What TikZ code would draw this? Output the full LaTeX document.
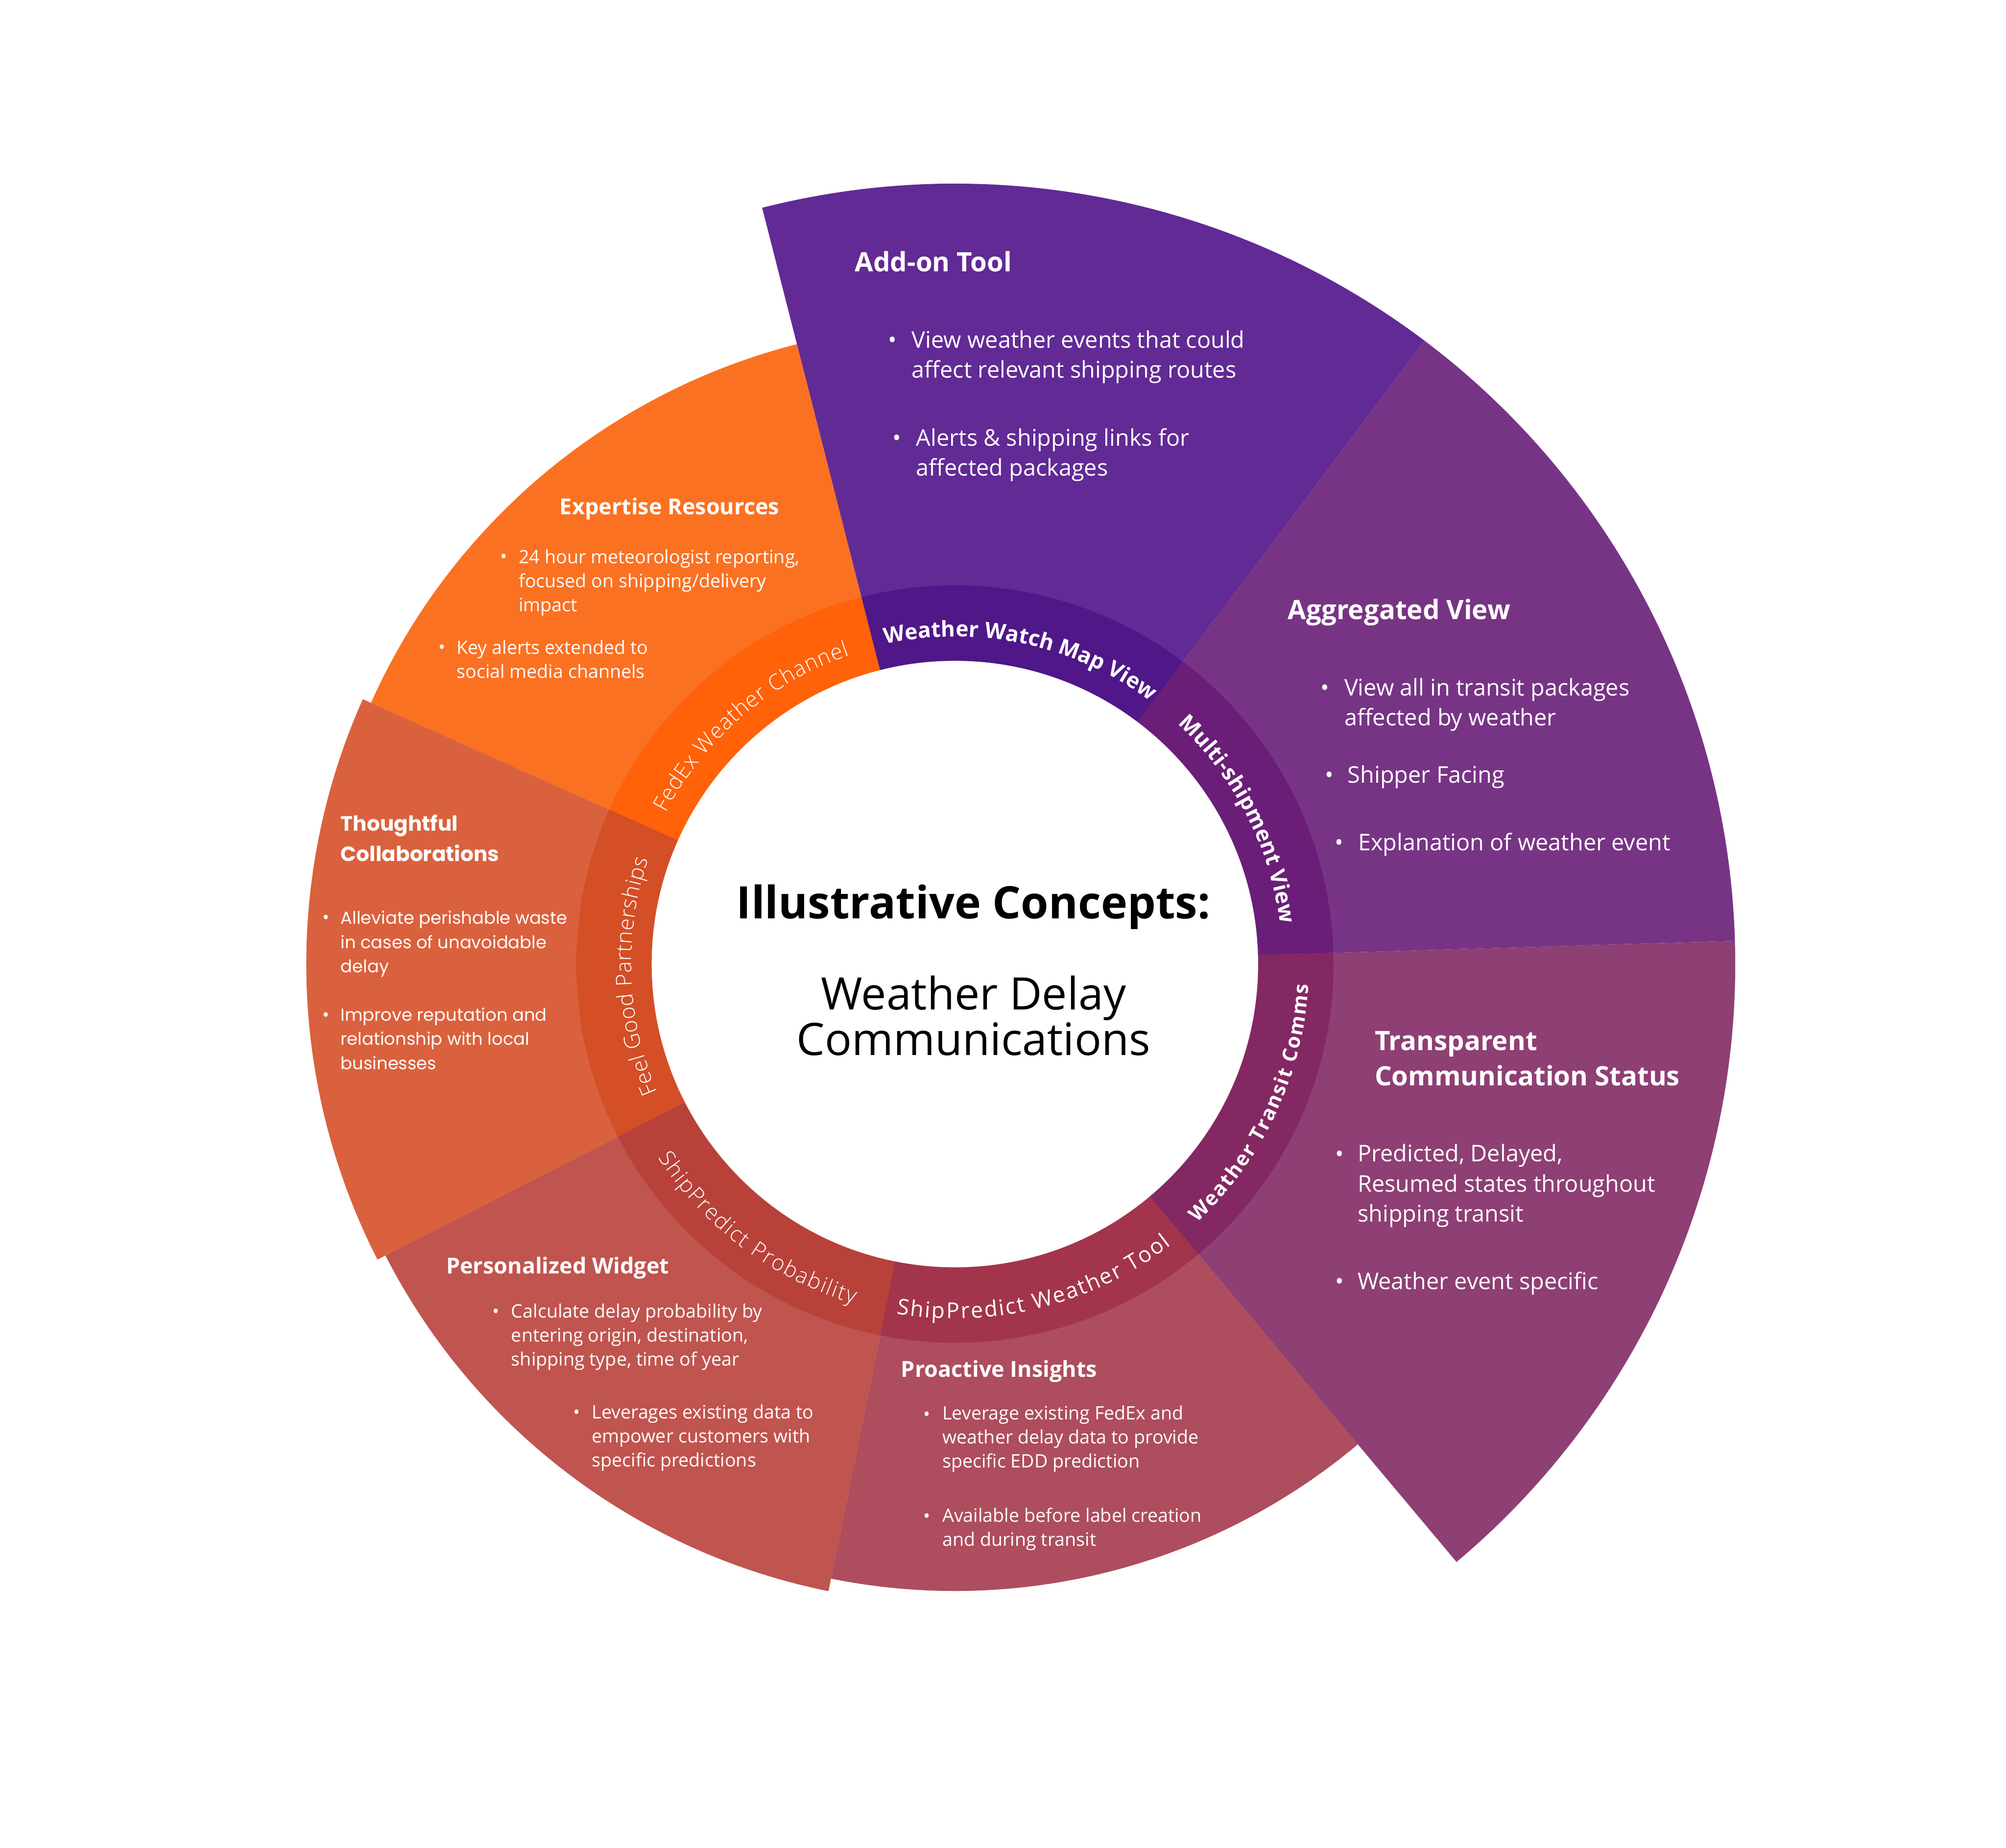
\documentclass[tikz,border=0pt]{standalone}
\usepackage{fontspec}
\setmainfont{Open Sans}
\newfontfamily\geofont{Poppins}
\IfFontExistsTF{Open Sans SemiBold}{\newfontfamily\semibf{Open Sans SemiBold}}{\newcommand\semibf{\bfseries}}
\IfFontExistsTF{Open Sans Light}{\newfontfamily\lightf{Open Sans Light}}{\newcommand\lightf{}}
\usepackage{tikz}
\usetikzlibrary{decorations.text}
\definecolor{addonPurple}{RGB}{98,42,149}
\definecolor{aggPurple}{RGB}{119,52,133}
\definecolor{transMauve}{RGB}{142,63,116}
\definecolor{proRose}{RGB}{173,77,94}
\definecolor{persRed}{RGB}{192,84,79}
\definecolor{thoughtOrange}{RGB}{218,97,61}
\definecolor{expOrange}{RGB}{251,113,34}
\definecolor{watchRing}{RGB}{79,23,136}
\definecolor{multiRing}{RGB}{106,30,120}
\definecolor{transitRing}{RGB}{131,40,98}
\definecolor{toolRing}{RGB}{162,53,75}
\definecolor{probRing}{RGB}{184,66,58}
\definecolor{feelRing}{RGB}{212,78,38}
\definecolor{channelRing}{RGB}{255,98,9}

\begin{document}
\begin{tikzpicture}[x=0.02cm, y=0.02cm,
    titleL/.style={text=white, inner sep=0pt, anchor=base west, align=left, font=\fontsize{11.9}{15.9}\selectfont\bfseries},
    bodyL/.style={text=white, inner sep=0pt, anchor=base west, align=left, font=\fontsize{10.2}{13.4}\selectfont},
    titleS/.style={text=white, inner sep=0pt, anchor=base west, align=left, font=\fontsize{9.8}{13.4}\selectfont\bfseries},
    bodyS/.style={text=white, inner sep=0pt, anchor=base west, align=left, font=\fontsize{8.2}{10.7}\selectfont},
    geoT/.style={titleS, font=\geofont\fontsize{9.2}{13.4}\selectfont\bfseries},
    geoB/.style={bodyS, font=\geofont\fontsize{7.7}{10.8}\selectfont},
    dotL/.style={text=white, inner sep=0pt, anchor=base, font=\fontsize{10.2}{13.4}\selectfont},
    dotS/.style={text=white, inner sep=0pt, anchor=base, font=\fontsize{8.2}{10.7}\selectfont},
    centertext/.style={inner sep=0pt, anchor=base, align=center, font=\fontsize{19.9}{20.3}\selectfont},
    ringlabel/.style={decorate, decoration={text along path, text={#1}, text color=white, text align={fit to path}}}
]
    \useasboundingbox (-746.4,-690.6) rectangle (821.6,753.5);
    \fill[white] (-746.4,-690.6) rectangle (821.6,753.5);

    \foreach \a/\b/\r/\c in {53/104.3/610/addonPurple, 1.7/53/610/aggPurple, -50/1.7/610/transMauve,
        -101.4/-50/490/proRose, -152.9/-101.4/500/persRed, 155.9/207.1/507/thoughtOrange, 104.3/155.9/500/expOrange}
        \fill[\c] (0,0) -- (\a:\r) arc[start angle=\a, end angle=\b, radius=\r] -- cycle;
    \foreach \a/\b/\c in {53/104.3/watchRing, 1.7/53/multiRing, -50/1.7/transitRing, -101.4/-50/toolRing,
        -152.9/-101.4/probRing, 155.9/207.1/feelRing, 104.3/155.9/channelRing}
        \fill[\c] (0,0) -- (\a:296) arc[start angle=\a, end angle=\b, radius=296] -- cycle;
    \fill[white] (0,0) circle[radius=237];

    \node[centertext, font=\fontsize{19.9}{20.3}\selectfont\bfseries] (ctitle) at (14.5,35.7) {Illustrative Concepts:};
    \node[centertext] (csub) at (14.5,-71.3) {Weather Delay\\Communications};

    \path[ringlabel={|\semibf\fontsize{9.7}{11}\selectfont|Weather Watch Map View}] (102.3:256) arc[start angle=102.3, end angle=54.3, radius=256];
    \path[ringlabel={|\semibf\fontsize{9.7}{11}\selectfont|Multi-shipment View}] (47.2:256) arc[start angle=47.2, end angle=7, radius=256];
    \path[ringlabel={|\bfseries\fontsize{9}{11}\selectfont|Weather Transit Comms}] (-46.9:277) arc[start angle=-46.9, end angle=-3.3, radius=277];
    \path[ringlabel={|\fontsize{9.7}{11}\selectfont|ShipPredict Weather Tool}] (-99.5:277) arc[start angle=-99.5, end angle=-52.4, radius=277];
    \path[ringlabel={|\lightf\fontsize{9.7}{11}\selectfont|ShipPredict Probability}] (-146.9:277) arc[start angle=-146.9, end angle=-106.5, radius=277];
    \path[ringlabel={|\lightf\fontsize{9.7}{11}\selectfont|Feel Good Partnerships}] (203.3:253) arc[start angle=203.3, end angle=161.1, radius=253];
    \path[ringlabel={|\lightf\fontsize{9.7}{11}\selectfont|FedEx Weather Channel}] (152.4:255) arc[start angle=152.4, end angle=108.8, radius=255];

    \node[titleL] (addT) at (-78.5,541.3) {Add-on Tool};
    \node[bodyL] (add1) at (-34,458) {View weather events that could\\affect relevant shipping routes};
    \node[bodyL] (add2) at (-30.6,381.5) {Alerts \& shipping links for\\affected packages};
    \node[dotL] (add1d) at (-48.9,481.5) {•};
    \node[dotL] (add2d) at (-45.4,404.8) {•};

    \node[titleL] (aggT) at (260,269.5) {Aggregated View};
    \node[bodyL] (agg1) at (304.1,186.2) {View all in transit packages\\affected by weather};
    \node[bodyL] (agg2) at (306.7,141.5) {Shipper Facing};
    \node[bodyL] (agg3) at (314.9,88.7) {Explanation of weather event};
    \node[dotL] (agg1d) at (289.3,209.6) {•};
    \node[dotL] (agg2d) at (292.6,141.5) {•};
    \node[dotL] (agg3d) at (300.2,88.7) {•};

    \node[titleL] (trnT) at (327.8,-95.2) {Transparent\\Communication Status};
    \node[bodyL] (trn1) at (314.5,-201.5) {Predicted, Delayed,\\Resumed states throughout\\shipping transit};
    \node[bodyL] (trn2) at (314.5,-254.3) {Weather event specific};
    \node[dotL] (trn1d) at (300.6,-154.6) {•};
    \node[dotL] (trn2d) at (300.6,-254.3) {•};

    \node[titleS] (proT) at (-42.4,-322.6) {Proactive Insights};
    \node[bodyS] (pro1) at (-10.1,-393.6) {Leverage existing FedEx and\\weather delay data to provide\\specific EDD prediction};
    \node[bodyS] (pro2) at (-10.1,-454.9) {Available before label creation\\and during transit};
    \node[dotS] (pro1d) at (-21.8,-356.8) {•};
    \node[dotS] (pro2d) at (-21.8,-436.5) {•};

    \node[titleS] (perT) at (-398,-242) {Personalized Widget};
    \node[bodyS] (per1) at (-347.1,-314.1) {Calculate delay probability by\\entering origin, destination,\\shipping type, time of year};
    \node[bodyS] (per2) at (-284.1,-392.8) {Leverages existing data to\\empower customers with\\specific predictions};
    \node[dotS] (per1d) at (-358.7,-276.5) {•};
    \node[dotS] (per2d) at (-295.7,-355.3) {•};

    \node[geoT] (thoT) at (-480.4,80.5) {Thoughtful\\Collaborations};
    \node[geoB] (tho1) at (-480.4,-6.7) {Alleviate perishable waste\\in cases of unavoidable\\delay};
    \node[geoB] (tho2) at (-480.4,-82.3) {Improve reputation and\\relationship with local\\businesses};
    \node[dotS] (tho1d) at (-491.5,31.4) {•};
    \node[dotS] (tho2d) at (-491.5,-44.8) {•};

    \node[titleS] (expT) at (-309.2,351.5) {Expertise Resources};
    \node[bodyS] (exp1) at (-341.2,275.6) {24 hour meteorologist reporting,\\focused on shipping/delivery\\impact};
    \node[bodyS] (exp2) at (-389.8,223.6) {Key alerts extended to\\social media channels};
    \node[dotS] (exp1d) at (-352.6,313.3) {•};
    \node[dotS] (exp2d) at (-401,242.5) {•};
\end{tikzpicture}
\end{document}
